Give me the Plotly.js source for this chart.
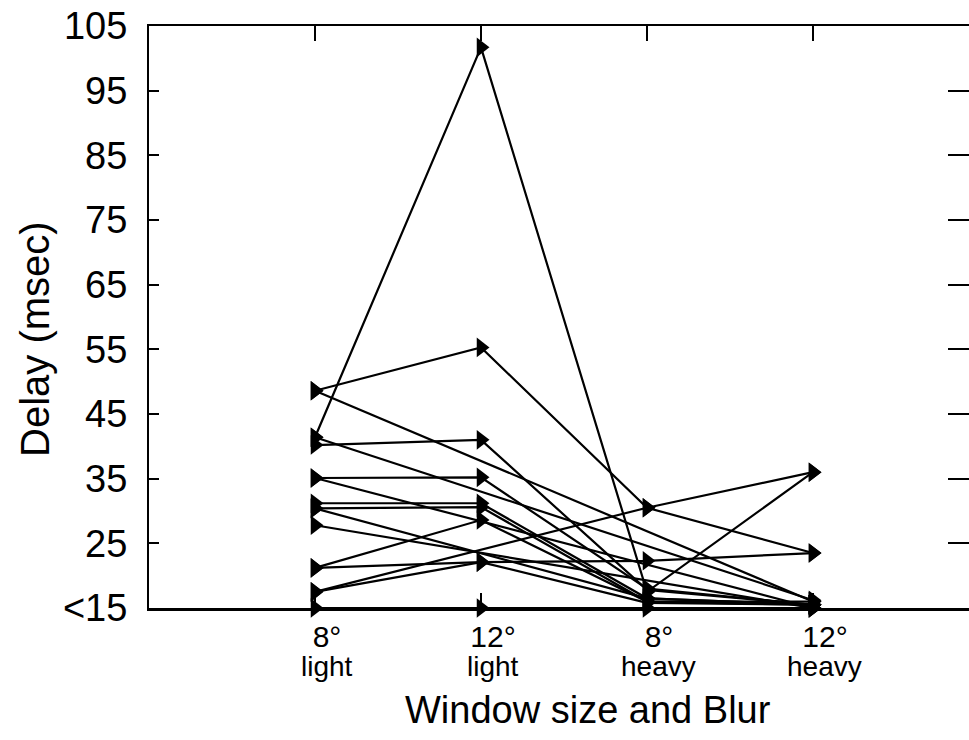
<!DOCTYPE html>
<html>
<head>
<meta charset="utf-8">
<script src="https://cdn.plot.ly/plotly-3.0.1.min.js"></script>
<style>
  html, body { margin: 0; padding: 0; background: #fff; }
  #chart { width: 969px; height: 740px; }
</style>
</head>
<body>
<div id="chart"></div>
<script>
// Categories (x positions 1..4)
const conditions = [1, 2, 3, 4];
const windowLabels = ["8°", "12°", "8°", "12°"];
const blurLabels = ["light", "light", "heavy", "heavy"];

// Y ticks
const yTickVals = [15, 25, 35, 45, 55, 65, 75, 85, 95, 105];
const yTickText = ["<15", "25", "35", "45", "55", "65", "75", "85", "95", "105"];

// Per-subject delays (msec), one entry per subject; null = no point drawn
const delay8Light  = [41.4, 48.6, 48.6, 41.4, 40.2, 35.1, 35.1, 31.2, 30.4, 30.4, 27.8, 21.2, 21.2, 17.5, 17.5, 15.0];
const delay12Light = [101.7, 55.3, null, null, 41.0, 35.2, null, 31.2, 30.6, null, null, 28.6, 22.1, 22.1, null, 15.0];
const delay8Heavy  = [17.5, 30.5, null, null, 17.8, 18.0, null, 16.5, 16.0, 16.5, null, 16.0, 22.3, 15.8, 30.5, 15.0];
const delay12Heavy = [36.0, 23.5, 16.0, 16.2, 15.5, 15.5, 15.0, 15.5, 16.0, 15.5, 15.0, 15.5, 23.5, 15.5, 36.0, 15.0];

const FONT = "Liberation Sans, Arial, Helvetica, sans-serif";

const traces = delay8Light.map((_, i) => ({
  type: "scatter",
  mode: "lines+markers",
  x: conditions,
  y: [delay8Light[i], delay12Light[i], delay8Heavy[i], delay12Heavy[i]],
  connectgaps: true,
  cliponaxis: false,
  line: { color: "#000", width: 2.2 },
  marker: { symbol: "triangle-right", size: 17, color: "#000" },
  showlegend: false,
  hoverinfo: "skip"
}));

// dummy trace so the right-hand tick axis is drawn
traces.push({
  type: "scatter", mode: "markers", x: [null], y: [null],
  yaxis: "y2", showlegend: false, hoverinfo: "skip"
});

const annotations = conditions.map((c, i) => ({
  x: c, y: 0, xref: "x", yref: "paper",
  yanchor: "top", yshift: -42, xshift: 12,
  text: blurLabels[i], showarrow: false, borderpad: 0,
  font: { family: FONT, size: 28, color: "#000" }
}));
annotations.push({
  x: 0.535, y: 0, xref: "paper", yref: "paper",
  yanchor: "top", yshift: -80, borderpad: 0,
  text: "Window size and Blur", showarrow: false,
  font: { family: FONT, size: 38, color: "#000" }
});
annotations.push({
  x: 0, y: 0.5, xref: "paper", yref: "paper",
  xanchor: "center", yanchor: "middle",
  xshift: -114, yshift: -22, textangle: -90,
  text: "Delay (msec)", showarrow: false,
  font: { family: FONT, size: 40, color: "#000" }
});

const layout = {
  width: 969, height: 740,
  margin: { l: 149, r: 0, t: 26, b: 132 },
  paper_bgcolor: "#fff", plot_bgcolor: "#fff",
  font: { family: FONT, color: "#000" },
  showlegend: false,
  xaxis: {
    range: [0, 4.94],
    tickvals: conditions,
    ticktext: windowLabels,
    ticks: "inside", ticklen: 15, tickwidth: 2, tickcolor: "#000",
    ticklabelshift: 12,
    ticklabelstandoff: 0,
    showline: true, linecolor: "#000", linewidth: 2.5,
    mirror: "ticks",
    showgrid: false, zeroline: false,
    tickfont: { family: FONT, size: 30, color: "#000" }
  },
  yaxis: {
    range: [15, 105],
    tickvals: yTickVals,
    ticktext: yTickText,
    ticks: "inside", ticklen: 10, tickwidth: 2, tickcolor: "#000",
    ticklabelstandoff: 12,
    showline: true, linecolor: "#000", linewidth: 2,
    showgrid: false, zeroline: false,
    tickfont: { family: FONT, size: 38, color: "#000" }
  },
  yaxis2: {
    overlaying: "y", side: "right",
    range: [15, 105],
    tickvals: yTickVals,
    ticks: "inside", ticklen: 21, tickwidth: 2, tickcolor: "#000",
    showticklabels: false, showline: false,
    showgrid: false, zeroline: false
  },
  annotations: annotations
};

Plotly.newPlot("chart", traces, layout, { staticPlot: true, displayModeBar: false });
</script>
</body>
</html>
